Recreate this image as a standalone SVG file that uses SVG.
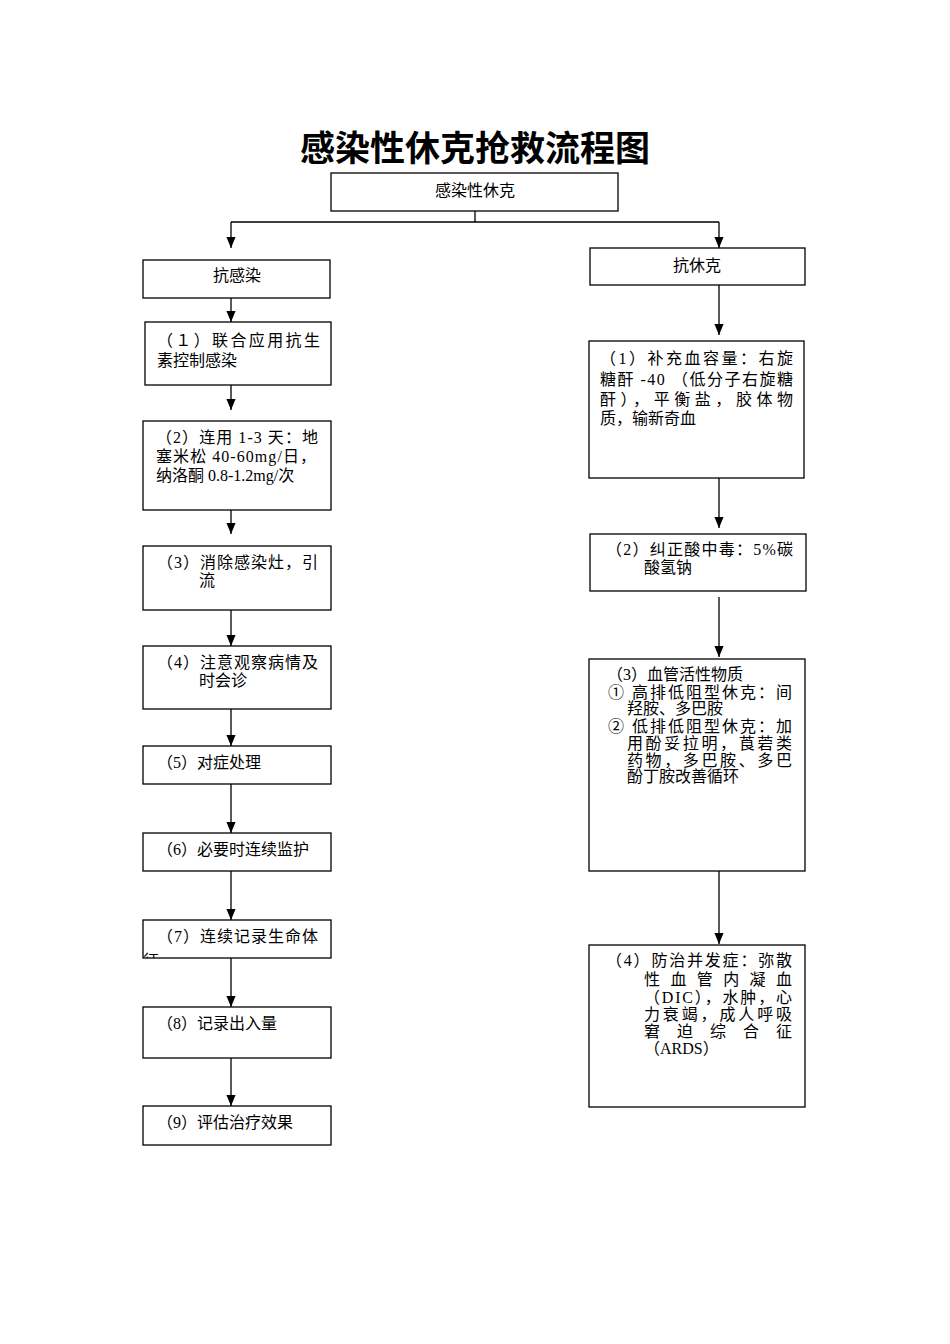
<svg xmlns="http://www.w3.org/2000/svg" width="950" height="1344" viewBox="0 0 950 1344">
<style>
text{font-family:"Liberation Serif","Noto Sans CJK SC",serif;font-size:16px;fill:#000}
.t{font-size:35px;font-weight:bold}
.c{text-anchor:middle}
rect{fill:#fff;stroke:#000;stroke-width:1.3}
.ln{fill:none;stroke:#000;stroke-width:1.3}
</style>
<defs>
<marker id="ah" markerUnits="userSpaceOnUse" markerWidth="11" markerHeight="12" viewBox="0 0 12 10" refX="12" refY="5" orient="auto">
<path d="M0,0 L12,5 L0,10 z" fill="#000"/>
</marker>
<clipPath id="clip7"><rect x="143" y="920" width="188" height="38"/></clipPath>
</defs>
<rect x="0" y="0" width="950" height="1344" style="stroke:none;fill:#fff"/>
<text class="t c" x="475" y="161">感染性休克抢救流程图</text>

<g id="connectors">
<path class="ln" d="M475,211 V222 M231,222 H719"/>
<path class="ln" d="M231,222 V248" marker-end="url(#ah)"/>
<path class="ln" d="M719,222 V248" marker-end="url(#ah)"/>
<path class="ln" d="M231,298 V322" marker-end="url(#ah)"/>
<path class="ln" d="M231,385 V410" marker-end="url(#ah)"/>
<path class="ln" d="M231,510 V534" marker-end="url(#ah)"/>
<path class="ln" d="M231,610 V646" marker-end="url(#ah)"/>
<path class="ln" d="M231,709 V746" marker-end="url(#ah)"/>
<path class="ln" d="M231,784 V833" marker-end="url(#ah)"/>
<path class="ln" d="M231,871 V920" marker-end="url(#ah)"/>
<path class="ln" d="M231,958 V1007" marker-end="url(#ah)"/>
<path class="ln" d="M231,1058 V1106" marker-end="url(#ah)"/>
<path class="ln" d="M719,285 V335" marker-end="url(#ah)"/>
<path class="ln" d="M719,478 V528" marker-end="url(#ah)"/>
<path class="ln" d="M719,597 V657" marker-end="url(#ah)"/>
<path class="ln" d="M719,871 V944" marker-end="url(#ah)"/>
</g>

<g id="n-root"><rect x="331" y="173" width="287" height="38"/><text class="c" x="475" y="196">感染性休克</text></g>

<g id="n-antiinf"><rect x="143" y="260" width="187" height="38"/><text class="c" x="237" y="281">抗感染</text></g>
<g id="n-l1"><rect x="145" y="322" width="186" height="63"/>
<text x="157" y="346" textLength="163" lengthAdjust="spacing">（１）联合应用抗生</text>
<text x="157" y="366">素控制感染</text></g>
<g id="n-l2"><rect x="143" y="421" width="188" height="89"/>
<text x="156" y="443" textLength="162" lengthAdjust="spacing">（2）连用 1-3 天：地</text>
<text x="156" y="462" textLength="160" lengthAdjust="spacing">塞米松 40-60mg/日，</text>
<text x="156" y="481">纳洛酮 0.8-1.2mg/次</text></g>
<g id="n-l3"><rect x="143" y="546" width="188" height="64"/>
<text x="157" y="568" textLength="161" lengthAdjust="spacing">（3）消除感染灶，引</text>
<text x="199" y="586">流</text></g>
<g id="n-l4"><rect x="143" y="646" width="188" height="63"/>
<text x="157" y="668" textLength="161" lengthAdjust="spacing">（4）注意观察病情及</text>
<text x="199" y="686">时会诊</text></g>
<g id="n-l5"><rect x="143" y="746" width="188" height="38"/><text x="157" y="768">（5）对症处理</text></g>
<g id="n-l6"><rect x="143" y="833" width="188" height="38"/><text x="157" y="855">（6）必要时连续监护</text></g>
<g id="n-l7"><rect x="143" y="920" width="188" height="38"/>
<text x="157" y="942" textLength="161" lengthAdjust="spacing">（7）连续记录生命体</text>
<text x="143" y="966" clip-path="url(#clip7)">征</text></g>
<g id="n-l8"><rect x="143" y="1007" width="188" height="51"/><text x="157" y="1029">（8）记录出入量</text></g>
<g id="n-l9"><rect x="143" y="1106" width="188" height="39"/><text x="157" y="1128">（9）评估治疗效果</text></g>

<g id="n-antishock"><rect x="590" y="248" width="215" height="37"/><text class="c" x="697" y="271">抗休克</text></g>
<g id="n-r1"><rect x="589" y="341" width="215" height="137"/>
<text x="600" y="364" textLength="193" lengthAdjust="spacing">（1）补充血容量：右旋</text>
<text x="600" y="385" textLength="193" lengthAdjust="spacing">糖酐 -40 （低分子右旋糖</text>
<text x="600" y="405" textLength="193" lengthAdjust="spacing">酐），平衡盐，胶体物</text>
<text x="600" y="424">质，输新奇血</text></g>
<g id="n-r2"><rect x="590" y="534" width="216" height="57"/>
<text x="606" y="555" textLength="187" lengthAdjust="spacing">（2）纠正酸中毒：5%碳</text>
<text x="644" y="573">酸氢钠</text></g>
<g id="n-r3"><rect x="589" y="659" width="216" height="212"/>
<text x="607" y="680">（3）血管活性物质</text>
<text x="608" y="698" textLength="184" lengthAdjust="spacing">① 高排低阻型休克：间</text>
<text x="627" y="714">羟胺、多巴胺</text>
<text x="608" y="732" textLength="184" lengthAdjust="spacing">② 低排低阻型休克：加</text>
<text x="627" y="749" textLength="165" lengthAdjust="spacing">用酚妥拉明，莨菪类</text>
<text x="627" y="766" textLength="165" lengthAdjust="spacing">药物，多巴胺、多巴</text>
<text x="627" y="782">酚丁胺改善循环</text></g>
<g id="n-r4"><rect x="589" y="945" width="216" height="162"/>
<text x="606" y="966" textLength="186" lengthAdjust="spacing">（4）防治并发症：弥散</text>
<text x="644" y="985" textLength="148" lengthAdjust="spacing">性 血 管 内 凝 血</text>
<text x="644" y="1003" textLength="148" lengthAdjust="spacing">（DIC），水肿，心</text>
<text x="644" y="1020" textLength="148" lengthAdjust="spacing">力衰竭，成人呼吸</text>
<text x="644" y="1037" textLength="148" lengthAdjust="spacing">窘 迫 综 合 征</text>
<text x="644" y="1054">（ARDS）</text></g>
</svg>
